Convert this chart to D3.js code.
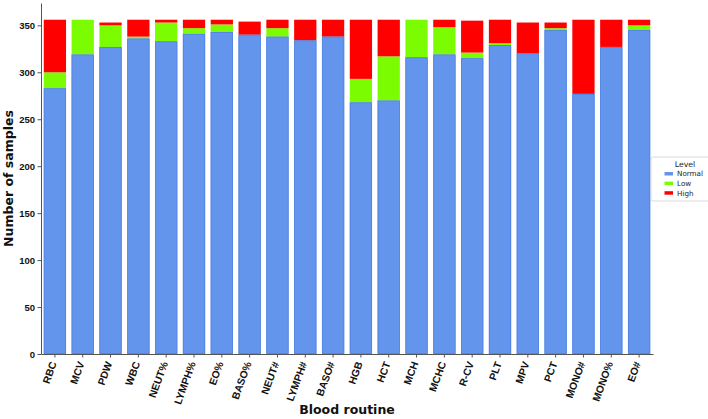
<!DOCTYPE html>
<html>
<head>
<meta charset="utf-8">
<script src="https://cdn.jsdelivr.net/npm/d3@7"></script>
<style>
  body { margin: 0; background: #fff; }
  svg { font-family: "DejaVu Sans", sans-serif; }
</style>
</head>
<body>
<div id="chart"></div>
<script>
// values
const categories = ["RBC", "MCV", "PDW", "WBC", "NEUT%", "LYMPH%", "EO%", "BASO%", "NEUT#", "LYMPH#", "BASO#",
    "HGB", "HCT", "MCH", "MCHC", "R-CV", "PLT", "MPV", "PCT", "MONO#", "MONO%", "EO#"];
const normal = [283, 319, 327, 336, 333, 341, 343, 340, 338, 334, 338, 268, 270, 316, 319, 315, 329, 320, 345, 277, 327, 345];
const low    = [17, 37, 23, 2, 20, 6, 8, 0, 9, 0, 0, 25, 47, 40, 29, 6, 2, 0, 2, 0, 0, 5];
const high   = [56, 0, 3, 18, 3, 9, 5, 14, 9, 22, 18, 63, 39, 0, 8, 34, 25, 33, 6, 79, 29, 6];
const levels = ["Normal", "Low", "High"];
const yTicks = [0, 50, 100, 150, 200, 250, 300, 350];

const colors = {
    Normal: "#6495ED",
    Low: "#7CFC00",
    High: "#FF0000"
};

const
    width = 708,
    height = 419,
    margin = { top: 3, right: 55, bottom: 65, left: 41 },
    font = "'DejaVu Sans', sans-serif",
    svg = d3.select("#chart").append("svg").attr("width", width).attr("height", height);

const data = categories.map((c, i) => ({ name: c, Normal: normal[i], Low: low[i], High: high[i] }));
const series = d3.stack().keys(levels)(data);

const x = d3.scaleBand()
    .domain(categories)
    .range([margin.left, width - margin.right])
    .paddingInner(0.2)
    .paddingOuter(0.1);

const y = d3.scaleLinear()
    .domain([0, 373.8])
    .range([height - margin.bottom, margin.top]);

// bars
svg.append("g")
    .selectAll("g")
    .data(series)
    .join("g")
    .attr("fill", d => colors[d.key])
    .selectAll("rect")
    .data(d => d.filter(s => s[1] > s[0]))
    .join("rect")
    .attr("x", d => x(d.data.name))
    .attr("width", x.bandwidth())
    .attr("y", d => y(d[1]))
    .attr("height", d => y(d[0]) - y(d[1]));

// thin darker outline of the blue part
svg.append("g")
    .selectAll("rect")
    .data(series[0])
    .join("rect")
    .attr("x", d => x(d.data.name) + 0.4)
    .attr("width", x.bandwidth() - 0.8)
    .attr("y", d => y(d[1]) + 0.4)
    .attr("height", d => y(d[0]) - y(d[1]) - 0.8)
    .attr("fill", "none")
    .attr("stroke", "#4f82e3")
    .attr("stroke-width", 0.8);

// axes
const xAxis = g => g
    .attr("transform", `translate(0,${height - margin.bottom})`)
    .attr("font-family", font)
    .call(d3.axisBottom(x).tickSize(3.5).tickSizeOuter(0))
    .call(g => g.select(".domain").attr("stroke", "#555"))
    .call(g => g.selectAll(".tick line").attr("stroke", "#555"))
    .call(g => g.selectAll(".tick text")
        .attr("font-size", 10.4)
        .attr("font-weight", "bold")
        .attr("fill", "#111")
        .attr("text-anchor", "end")
        .attr("x", 0)
        .attr("y", 0)
        .attr("dy", "0.35em")
        .attr("transform", "translate(-1.5,8) rotate(-70)"));

const yAxis = g => g
    .attr("transform", `translate(${margin.left},0)`)
    .attr("font-family", font)
    .call(d3.axisLeft(y).tickValues(yTicks).tickSize(3.5).tickSizeOuter(0).tickPadding(2.5))
    .call(g => g.select(".domain").attr("stroke", "#555"))
    .call(g => g.selectAll(".tick line").attr("stroke", "#555"))
    .call(g => g.selectAll(".tick text")
        .attr("font-size", 9.5)
        .attr("font-weight", "bold")
        .attr("fill", "#111"));

svg.append("g").call(xAxis);
svg.append("g").call(yAxis);

// axis titles
svg.append("text")
    .attr("x", (margin.left + width - margin.right) / 2)
    .attr("y", 414)
    .attr("text-anchor", "middle")
    .attr("font-size", 12.5)
    .attr("font-weight", "bold")
    .attr("fill", "#111")
    .text("Blood routine");

svg.append("text")
    .attr("transform", `translate(12.5,${(margin.top + height - margin.bottom) / 2}) rotate(-90)`)
    .attr("text-anchor", "middle")
    .attr("font-size", 12.5)
    .attr("font-weight", "bold")
    .attr("fill", "#111")
    .text("Number of samples");

// legend
const legend = svg.append("g").attr("transform", "translate(651,157)");
legend.append("rect")
    .attr("width", 60)
    .attr("height", 44)
    .attr("rx", 2)
    .attr("fill", "#fff")
    .attr("stroke", "#d0d0d0")
    .attr("stroke-width", 0.8);
legend.append("text")
    .attr("x", 34)
    .attr("y", 10)
    .attr("text-anchor", "middle")
    .attr("font-size", 7.8)
    .attr("fill", "#222")
    .text("Level");
levels.forEach((k, i) => {
    legend.append("rect")
        .attr("x", 13.5)
        .attr("y", 15 + i * 9.6)
        .attr("width", 8.5)
        .attr("height", 3.5)
        .attr("fill", colors[k]);
    legend.append("text")
        .attr("x", 26)
        .attr("y", 19.3 + i * 9.6)
        .attr("font-size", 7.2)
        .attr("fill", "#222")
        .text(k);
});
</script>
</body>
</html>
